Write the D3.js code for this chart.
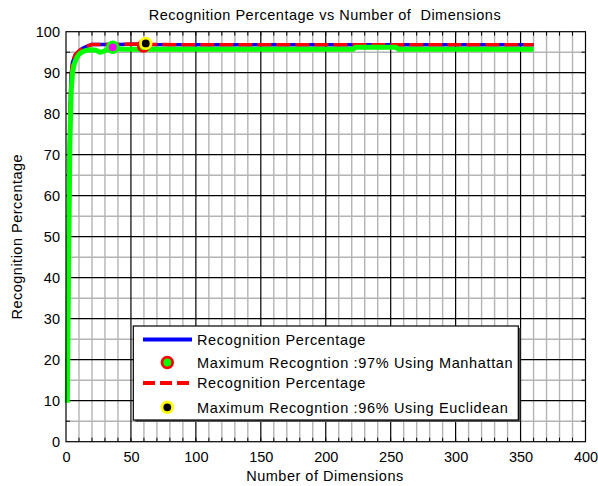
<!DOCTYPE html>
<html><head><meta charset="utf-8">
<script src="https://cdn.jsdelivr.net/npm/d3@7"></script>
<style>
body{margin:0;background:#fff;}
text{font-family:"Liberation Sans",Arial,sans-serif;}
</style></head>
<body><svg id="c" width="598" height="486"></svg>
<script>
// ---- data ----
const titleText = "Recognition Percentage vs Number of  Dimensions";
const xLabelText = "Number of Dimensions";
const yLabelText = "Recognition Percentage";
const xTicks = [0,50,100,150,200,250,300,350,400];
const yTicks = [0,10,20,30,40,50,60,70,80,90,100];

// Manhattan (blue solid)
const manhattanDims = [1,2,3,4,5,7,10,13,16,20,40,60,62,66,100,360];
const manhattanRate = [10,50,80,89.5,92.5,94.3,95.3,96,96.4,96.9,96.9,97.0,97.1,96.9,96.8,96.8];
// Euclidean (red dashed)
const euclideanDims = [1,2,3,4,5,7,10,13,16,20,40,60,62,66,100,360];
const euclideanRate = [10,50,80,89.5,92.5,94.3,95.3,96,96.4,96.9,96.9,97.0,97.1,96.9,96.8,96.8];
// third curve (green thick)
const thirdDims = [1,2,3,4,5,6,8,10,12,15,19,23,26,29,32,36,45,221,223,254,256,360];
const thirdRate = [9.5,42,73,85.5,90,91.8,93.5,94.5,95,95.4,95.6,95.5,95,95.2,95.7,95.9,95.7,95.7,96.2,96.2,95.7,95.7];

// markers
const markerLabels = ["Maximum Recogntion :97% Using Manhattan","Maximum Recogntion :96% Using Euclidean"];
const seriesLabels = ["Recognition Percentage","Recognition Percentage"];
const magentaPoint = [36,96.2];
const manhattanMax = [59.7,96.5];
const euclideanMax = [61.4,97.15];

// ---- drawing ----
const svg = d3.select("#c");
const x = d3.scaleLinear([0,400],[66,585.5]);
const y = d3.scaleLinear([0,100],[441.7,31.7]);
const FS = 14.5;

svg.append("rect").attr("x",x(0)).attr("y",y(100)).attr("width",x(400)-x(0)).attr("height",y(0)-y(100)).attr("fill","#fff");

// minor grid
const g = svg.append("g");
d3.range(10,400,10).filter(v=>v%50!==0).forEach(v=>{
  g.append("line").attr("x1",x(v)).attr("x2",x(v)).attr("y1",y(0)).attr("y2",y(100)).attr("stroke","#b4b4b4").attr("stroke-width",1.4);
});
d3.range(5,100,5).filter(v=>v%10!==0).forEach(v=>{
  g.append("line").attr("y1",y(v)).attr("y2",y(v)).attr("x1",x(0)).attr("x2",x(400)).attr("stroke","#b4b4b4").attr("stroke-width",1.4);
});
// major grid
xTicks.slice(1,-1).forEach(v=>{
  g.append("line").attr("x1",x(v)).attr("x2",x(v)).attr("y1",y(0)).attr("y2",y(100)).attr("stroke","#000").attr("stroke-width",1.2);
});
yTicks.slice(1,-1).forEach(v=>{
  g.append("line").attr("y1",y(v)).attr("y2",y(v)).attr("x1",x(0)).attr("x2",x(400)).attr("stroke","#000").attr("stroke-width",1.2);
});
// minor ticks on all sides
d3.range(10,400,10).forEach(v=>{
  g.append("line").attr("x1",x(v)).attr("x2",x(v)).attr("y1",y(0)).attr("y2",y(0)-4).attr("stroke","#000");
  g.append("line").attr("x1",x(v)).attr("x2",x(v)).attr("y1",y(100)).attr("y2",y(100)+4).attr("stroke","#000");
});
d3.range(5,100,5).forEach(v=>{
  g.append("line").attr("y1",y(v)).attr("y2",y(v)).attr("x1",x(0)).attr("x2",x(0)+4).attr("stroke","#000");
  g.append("line").attr("y1",y(v)).attr("y2",y(v)).attr("x1",x(400)).attr("x2",x(400)-4).attr("stroke","#000");
});

// lines
const line = d3.line().x(d=>x(d[0])).y(d=>y(d[1]));
svg.append("path").datum(d3.zip(manhattanDims,manhattanRate)).attr("d",line)
  .attr("fill","none").attr("stroke","#0000ff").attr("stroke-width",3.5).attr("stroke-linejoin","round");
svg.append("path").datum(d3.zip(euclideanDims,euclideanRate)).attr("d",line)
  .attr("fill","none").attr("stroke","#ff0000").attr("stroke-width",3.5).attr("stroke-dasharray","14,5").attr("stroke-linejoin","round");
svg.append("path").datum(d3.zip(thirdDims,thirdRate)).attr("d",line)
  .attr("fill","none").attr("stroke","#00ff00").attr("stroke-width",5).attr("stroke-linejoin","round");

function marker(sel,cx,cy,fill,edge){
  sel.append("circle").attr("cx",cx).attr("cy",cy).attr("r",5.3).attr("fill",fill).attr("stroke",edge).attr("stroke-width",2.8);
}
marker(svg,x(magentaPoint[0]),y(magentaPoint[1]),"#ff00ff","#00ff00");
marker(svg,x(manhattanMax[0]),y(manhattanMax[1]),"#00ff00","#ff0000");
marker(svg,x(euclideanMax[0]),y(euclideanMax[1]),"#000","#ffff00");

// box
svg.append("rect").attr("x",x(0)).attr("y",y(100)).attr("width",x(400)-x(0)).attr("height",y(0)-y(100))
  .attr("fill","none").attr("stroke","#000").attr("stroke-width",1.2);

// tick labels via axes
const ax = svg.append("g").attr("transform",`translate(0,${y(0)})`)
  .call(d3.axisBottom(x).tickValues(xTicks).tickSize(0).tickPadding(10).tickFormat(d3.format("d")));
ax.select(".domain").remove();
ax.selectAll("text").attr("font-size",FS).attr("font-family","Liberation Sans, Arial, sans-serif").attr("fill","#000");
const ay = svg.append("g").attr("transform",`translate(${x(0)},0)`)
  .call(d3.axisLeft(y).tickValues(yTicks).tickSize(0).tickPadding(6).tickFormat(d3.format("d")));
ay.select(".domain").remove();
ay.selectAll("text").attr("font-size",FS).attr("font-family","Liberation Sans, Arial, sans-serif").attr("fill","#000");

// title & labels
svg.append("text").attr("x",325).attr("y",19.5).attr("text-anchor","middle").attr("font-size",FS)
  .attr("letter-spacing",0.5).style("white-space","pre").text(titleText);
svg.append("text").attr("x",325).attr("y",481).attr("text-anchor","middle").attr("font-size",FS)
  .attr("letter-spacing",0.5).text(xLabelText);
svg.append("text").attr("transform",`translate(22,${(y(0)+y(100))/2}) rotate(-90)`).attr("text-anchor","middle").attr("font-size",FS)
  .attr("letter-spacing",0.5).text(yLabelText);

// legend
const L = {x:133.3,y:326,w:385,h:94};
svg.append("rect").attr("x",L.x+2).attr("y",L.y+2).attr("width",L.w).attr("height",L.h).attr("fill","#555");
svg.append("rect").attr("x",L.x).attr("y",L.y).attr("width",L.w).attr("height",L.h).attr("fill","#fff").attr("stroke","#000").attr("stroke-width",1.2);
const rowY = [339.5,362.5,383,407.3];
const textX = 197;
svg.append("line").attr("x1",143).attr("x2",192).attr("y1",rowY[0]).attr("y2",rowY[0]).attr("stroke","#0000ff").attr("stroke-width",4);
svg.append("line").attr("x1",143).attr("x2",192).attr("y1",rowY[2]).attr("y2",rowY[2]).attr("stroke","#ff0000").attr("stroke-width",4).attr("stroke-dasharray","12,5");
marker(svg,167.3,rowY[1],"#00ff00","#ff0000");
marker(svg,167.3,rowY[3],"#000","#ffff00");
const legTexts = [seriesLabels[0],markerLabels[0],seriesLabels[1],markerLabels[1]];
legTexts.forEach((t,i)=>{
  svg.append("text").attr("x",textX).attr("y",rowY[i]).attr("dy","0.36em").attr("font-size",FS).attr("letter-spacing",0.65).text(t);
});
</script></body></html>
